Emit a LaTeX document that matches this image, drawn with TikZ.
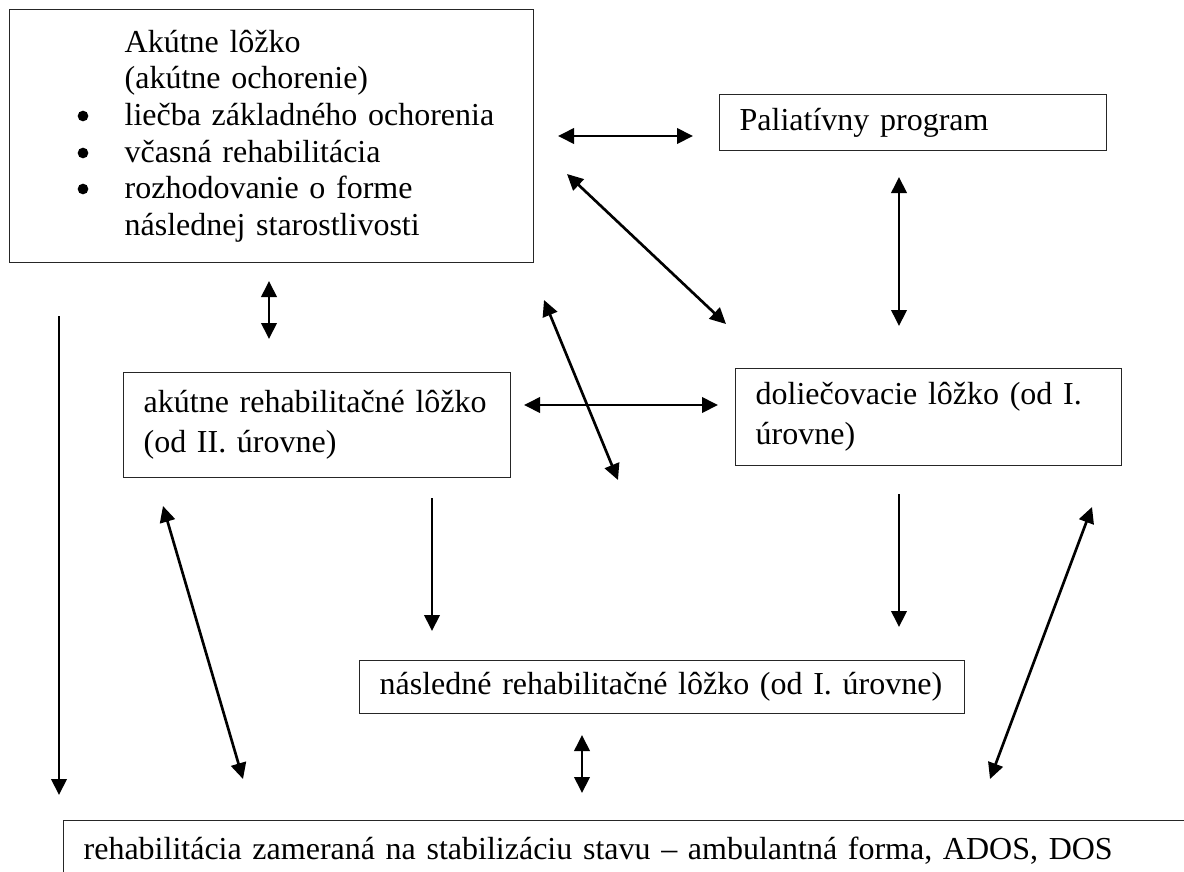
\documentclass[tikz,border=0pt]{standalone}
\usepackage{fontspec}
\setmainfont{Liberation Serif}
\usetikzlibrary{arrows.meta}

\tikzset{
    box/.style={draw=black!85, line width=1pt, anchor=north west, inner xsep=15pt, inner ysep=0pt,
        align=left, font=\fontsize{24pt}{30pt}\selectfont},
    obojs/.style={line width=2pt, {Triangle[length=12pt,width=11.5pt]}-{Triangle[length=12pt,width=11.5pt]}},
    jedns/.style={line width=2pt, -{Triangle[length=12pt,width=11.5pt]}},
}
\newcommand{\odsad}{\hspace*{86.25pt}}

\begin{document}
\begin{tikzpicture}[x=0.75pt, y=-0.75pt]
    \useasboundingbox (0,0) rectangle (1184,871);
    \clip (0,0) rectangle (1184,871);

    % Boxes
    \node[box, inner xsep=0pt, text width=393pt, minimum height=189.75pt,
        font=\fontsize{24pt}{27.5pt}\selectfont] (akut) at (9,9)
        {\odsad Akútne lôžko\\
         \odsad (akútne ochorenie)\\
         \odsad liečba základného ochorenia\\
         \odsad včasná rehabilitácia\\
         \odsad rozhodovanie o forme\\
         \odsad následnej starostlivosti};
    % bullets of the list
    \foreach \y in {116,153,189}
        \fill (83,\y) circle[radius=4pt];
    \node[box, text width=260.25pt, minimum height=42pt] (paliat) at (719,94) {Paliatívny program};
    \node[box, text width=260.25pt, minimum height=78.75pt] (arl) at (123,372)
        {akútne rehabilitačné lôžko\\(od II. úrovne)};
    \node[box, text width=259.5pt, minimum height=72.75pt] (dol) at (735,368)
        {doliečovacie lôžko (od I.\\úrovne)};
    \node[box, text width=423.75pt, minimum height=39.75pt] (nasl) at (359,660)
        {následné rehabilitačné lôžko (od I. úrovne)};
    \node[box, text width=900pt, minimum height=45.75pt] (amb) at (63,820)
        {rehabilitácia zameraná na stabilizáciu stavu -- ambulantná forma, ADOS, DOS};

    % Arrow ends
    \coordinate (ap1) at (558,136);  \coordinate (ap2) at (693,136);
    \coordinate (ad1) at (567,174);  \coordinate (ad2) at (726,324);
    \coordinate (pd1) at (899,177);  \coordinate (pd2) at (899,326);
    \coordinate (ar1) at (269,281);  \coordinate (ar2) at (269,339);
    \coordinate (ab1) at (59,316);   \coordinate (ab2) at (59,795);
    \coordinate (rx1) at (544,300);  \coordinate (rx2) at (618,480);
    \coordinate (rd1) at (524,405);  \coordinate (rd2) at (718,405);
    \coordinate (rn1) at (432,498);  \coordinate (rn2) at (432,631);
    \coordinate (dn1) at (899,494);  \coordinate (dn2) at (899,627);
    \coordinate (rb1) at (163,506);  \coordinate (rb2) at (243,779);
    \coordinate (db1) at (1092,507); \coordinate (db2) at (990,779);
    \coordinate (nb1) at (582,735);  \coordinate (nb2) at (582,793);

    % Arrows
    \draw[obojs] (ap1) -- (ap2);
    \draw[obojs] (ad1) -- (ad2);
    \draw[obojs] (pd1) -- (pd2);
    \draw[obojs] (ar1) -- (ar2);
    \draw[jedns] (ab1) -- (ab2);
    \draw[obojs] (rx1) -- (rx2);
    \draw[obojs] (rd1) -- (rd2);
    \draw[jedns] (rn1) -- (rn2);
    \draw[jedns] (dn1) -- (dn2);
    \draw[obojs] (rb1) -- (rb2);
    \draw[obojs] (db1) -- (db2);
    \draw[obojs] (nb1) -- (nb2);
\end{tikzpicture}
\end{document}
